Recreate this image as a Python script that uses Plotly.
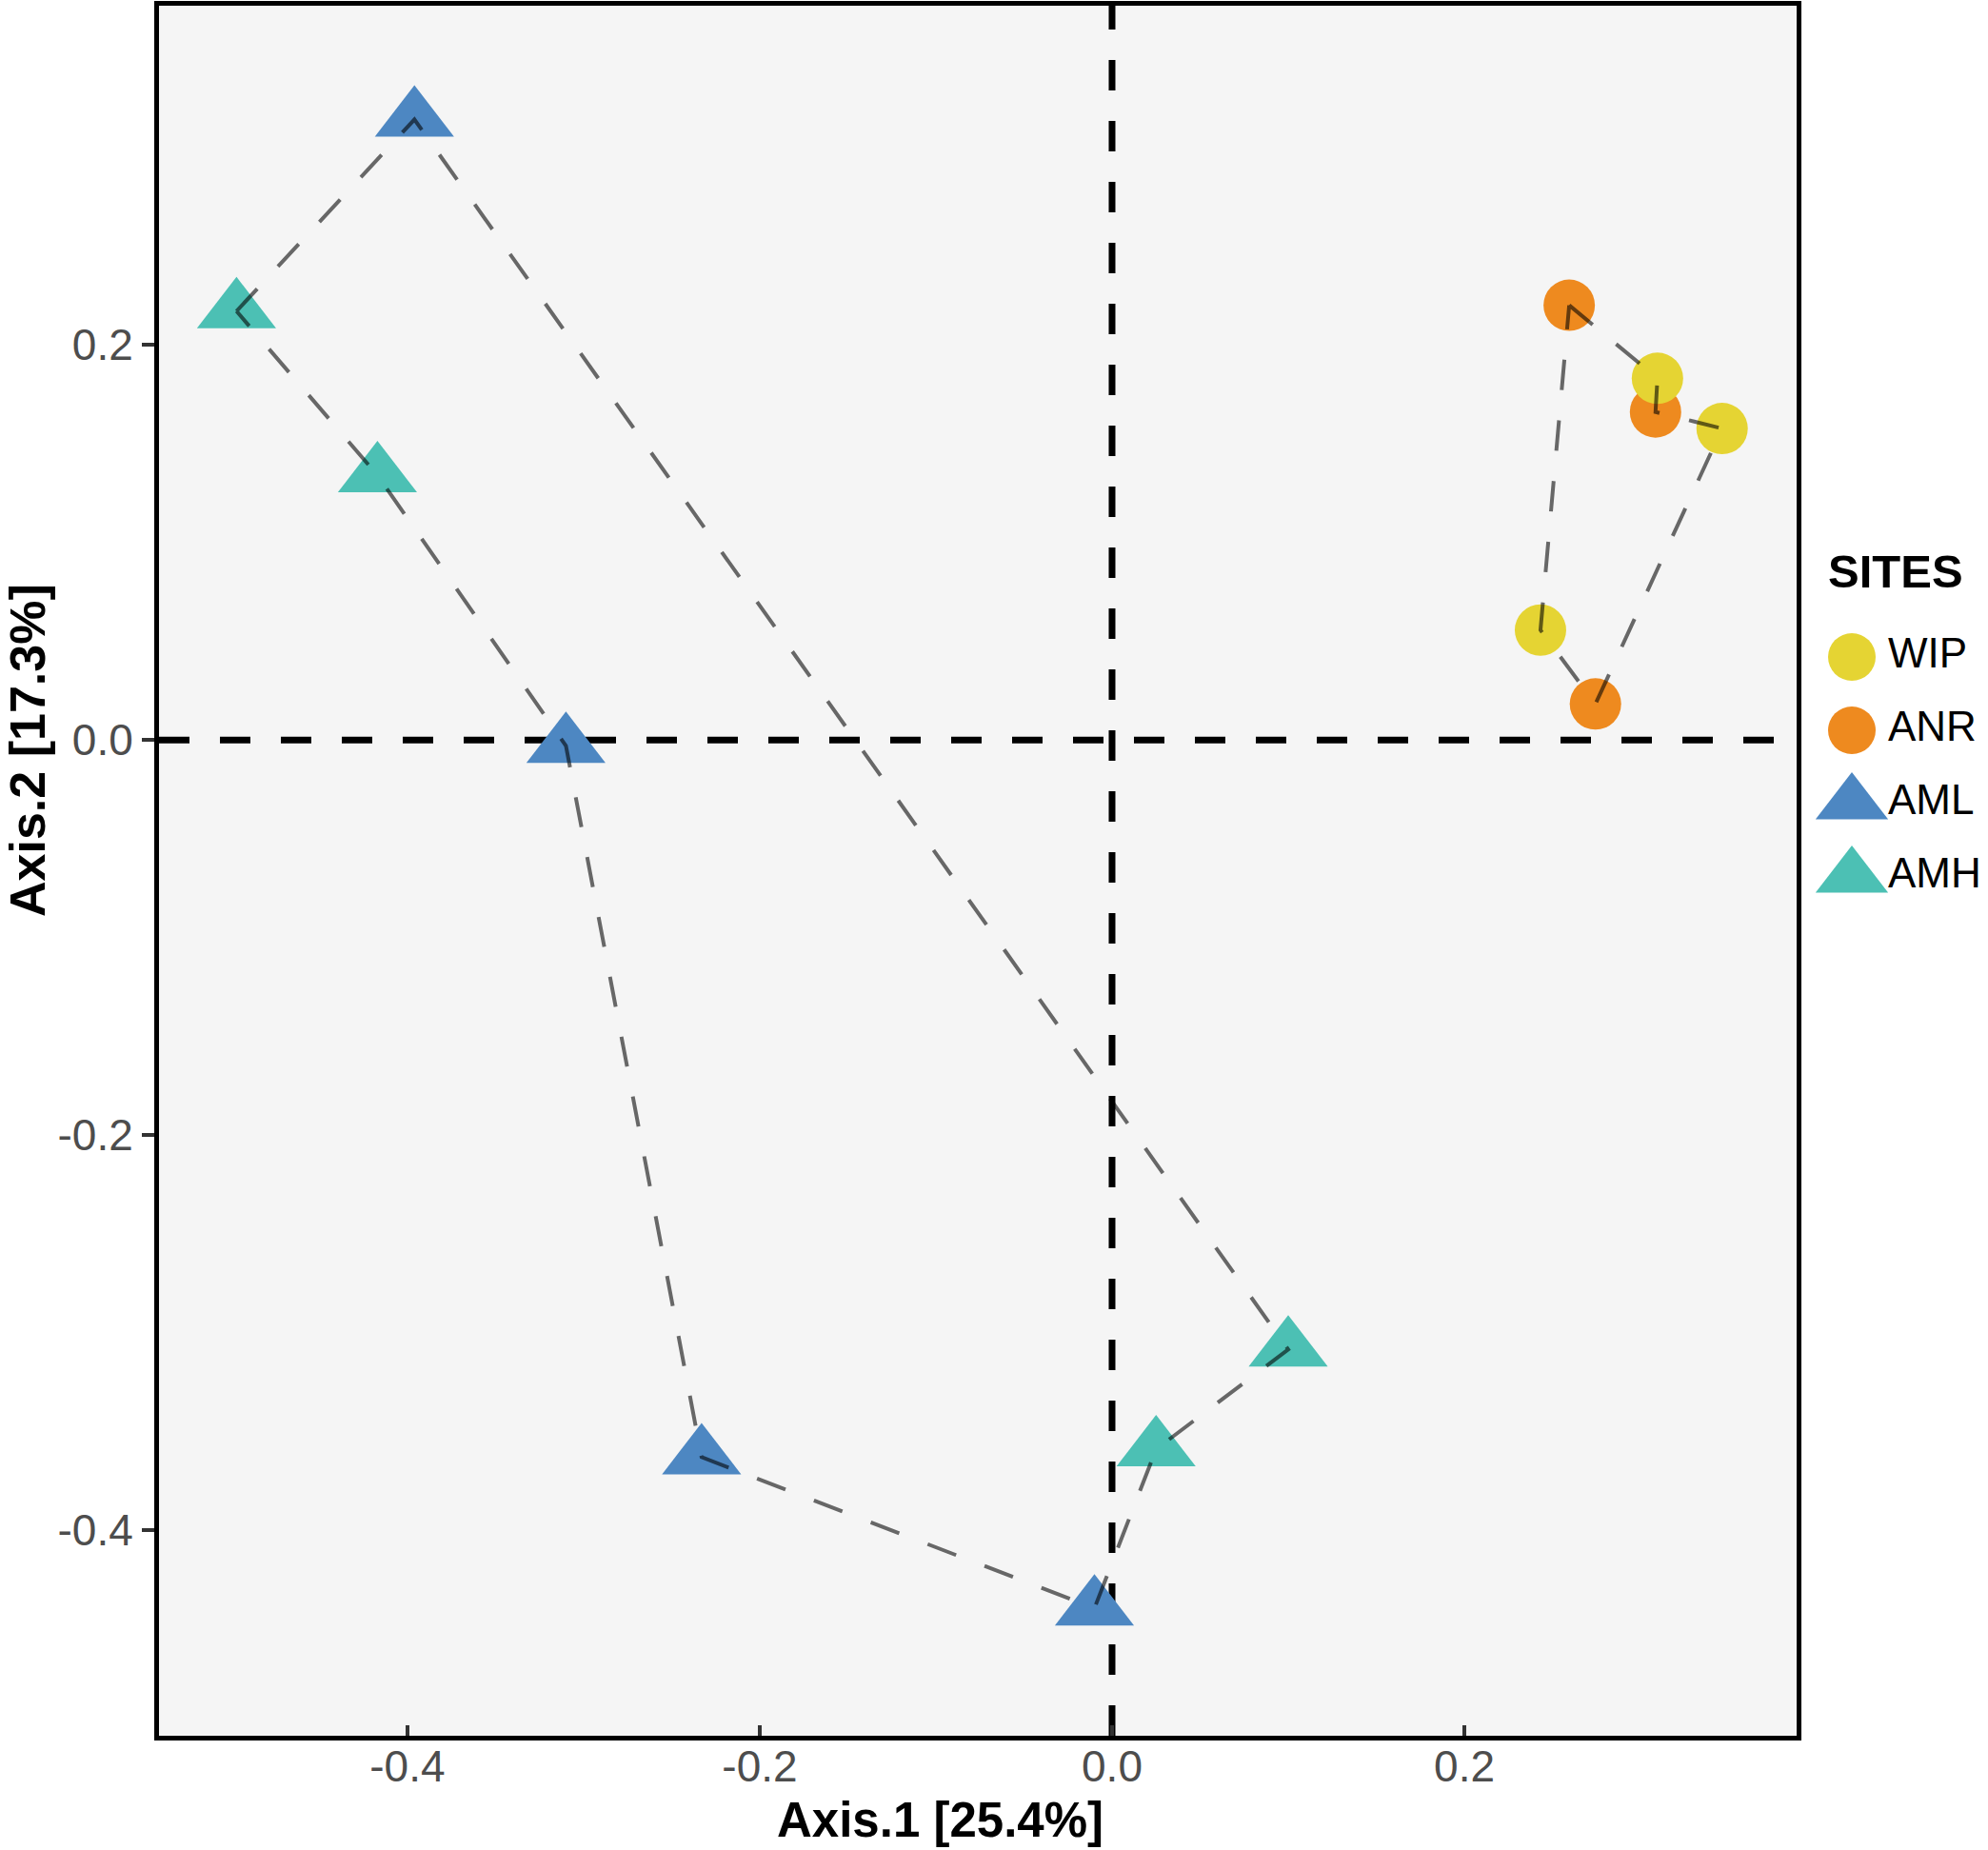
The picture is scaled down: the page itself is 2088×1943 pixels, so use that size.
import plotly.graph_objects as go

# PCoA sample scores
site = ["AML", "AMH", "AMH", "AML", "AML", "AML", "AMH", "AMH",
        "ANR", "WIP", "ANR", "WIP", "WIP", "ANR"]
axis1 = [-0.396, -0.497, -0.417, -0.310, -0.233, -0.010, 0.025, 0.100,
         0.2595, 0.3096, 0.3085, 0.3463, 0.2432, 0.2744]
axis2 = [0.314, 0.217, 0.134, -0.003, -0.363, -0.4395, -0.359, -0.3085,
         0.220, 0.183, 0.166, 0.1576, 0.0556, 0.0182]

# outline order of the two dashed polygons (indices into the lists above)
outline_triangles = [1, 0, 7, 6, 5, 4, 3, 2, 1]
outline_circles = [8, 9, 10, 11, 13, 12, 8]

sites = ["WIP", "ANR", "AML", "AMH"]
site_colors = {"WIP": "#E5D433", "ANR": "#EE8A1F", "AML": "#4D87C2", "AMH": "#4CC0B4"}
site_symbols = {"WIP": "circle", "ANR": "circle", "AML": "triangle-up", "AMH": "triangle-up"}
draw_order = ["ANR", "WIP", "AML", "AMH"]

tick_vals = [-0.4, -0.2, 0.0, 0.2]
tick_text = ["-0.4", "-0.2", "0.0", "0.2"]

FONT = "Liberation Sans, Arial, Helvetica, sans-serif"
W, H = 2088, 1943
ML, MR, MT, MB = 167, 0, 6, 120
panel_right = 1887
PW = W - ML - MR
PH = H - MT - MB
xdom = (panel_right - ML) / PW

fig = go.Figure()

for s in draw_order:
    idx = [i for i, v in enumerate(site) if v == s]
    size = 54 if site_symbols[s] == "circle" else 72
    fig.add_trace(go.Scatter(
        x=[axis1[i] for i in idx], y=[axis2[i] for i in idx],
        mode="markers", name=s, showlegend=False,
        marker=dict(symbol=site_symbols[s], size=size, color=site_colors[s],
                    opacity=1, line=dict(width=0)),
    ))

for order in (outline_triangles, outline_circles):
    fig.add_trace(go.Scatter(
        x=[axis1[i] for i in order], y=[axis2[i] for i in order],
        mode="lines", showlegend=False, hoverinfo="skip",
        line=dict(color="rgba(0,0,0,0.58)", width=4, dash="32px,32px"),
    ))

# hand-made legend on its own small axes
fig.add_trace(go.Scatter(
    x=[0] * len(sites), y=list(range(len(sites))),
    xaxis="x2", yaxis="y2", mode="markers", showlegend=False, hoverinfo="skip",
    cliponaxis=False,
    marker=dict(symbol=[site_symbols[s] for s in sites],
                size=[50 if site_symbols[s] == "circle" else 66 for s in sites],
                color=[site_colors[s] for s in sites], opacity=1, line=dict(width=0)),
))
fig.add_trace(go.Scatter(
    x=[38] * len(sites), y=list(range(len(sites))),
    xaxis="x2", yaxis="y2", mode="text", text=sites, textposition="middle right",
    textfont=dict(family=FONT, size=44, color="black"), cliponaxis=False,
    showlegend=False, hoverinfo="skip",
))

# panel background and dashed reference lines through the origin
fig.add_shape(type="rect", xref="x domain", yref="y domain", x0=0, x1=1, y0=0, y1=1,
              fillcolor="#F5F5F5", line=dict(width=0), layer="below")
fig.add_shape(type="line", xref="x", yref="y domain", x0=0, x1=0, y0=0, y1=1,
              line=dict(color="black", width=7, dash="32px,32px"), layer="below")
fig.add_shape(type="line", xref="x domain", yref="y", x0=0, x1=1, y0=0, y1=0,
              line=dict(color="black", width=7, dash="32px,32px"), layer="below")

axis_common = dict(
    showgrid=False, zeroline=False, showline=True, mirror=True,
    linecolor="black", linewidth=5, tickcolor="#333333", tickwidth=4,
    tickfont=dict(family=FONT, size=46, color="#4D4D4D"),
    tickvals=tick_vals, ticktext=tick_text,
)

fig.update_layout(
    width=W, height=H,
    margin=dict(l=ML, r=MR, t=MT, b=MB),
    paper_bgcolor="white", plot_bgcolor="white",
    xaxis=dict(domain=[0, xdom], range=[-0.541, 0.3886], ticks="inside", ticklen=11,
               ticklabelstandoff=-12, **axis_common),
    yaxis=dict(domain=[0, 1], range=[-0.504, 0.3716], ticks="outside", ticklen=13,
               **axis_common),
    xaxis2=dict(domain=[(1900 - ML) / PW, 1], range=[-45, 143],
                visible=False, anchor="y2", fixedrange=True),
    yaxis2=dict(domain=[0, 1], range=[14.714, -8.883], visible=False,
                anchor="x2", fixedrange=True),
    annotations=[
        dict(text="<b>Axis.1 [25.4%]</b>", xref="paper", yref="paper",
             x=(987 - ML) / PW, y=(1823 - 1911) / PH, xanchor="center", yanchor="middle",
             showarrow=False, font=dict(family=FONT, size=51, color="black")),
        dict(text="<b>Axis.2 [17.3%]</b>", xref="paper", yref="paper",
             x=(29 - ML) / PW, y=(1823 - 788) / PH, xanchor="center", yanchor="middle",
             textangle=-90, showarrow=False, font=dict(family=FONT, size=52, color="black")),
        dict(text="<b>SITES</b>", xref="paper", yref="paper",
             x=(1918 - ML) / PW, y=(1823 - 600) / PH,
             xanchor="left", yanchor="middle",
             showarrow=False, font=dict(family=FONT, size=49, color="black")),
    ],
    showlegend=False,
)

fig.write_html("out.html", config={"displayModeBar": False},
               post_script="document.body.style.margin='0px';")
